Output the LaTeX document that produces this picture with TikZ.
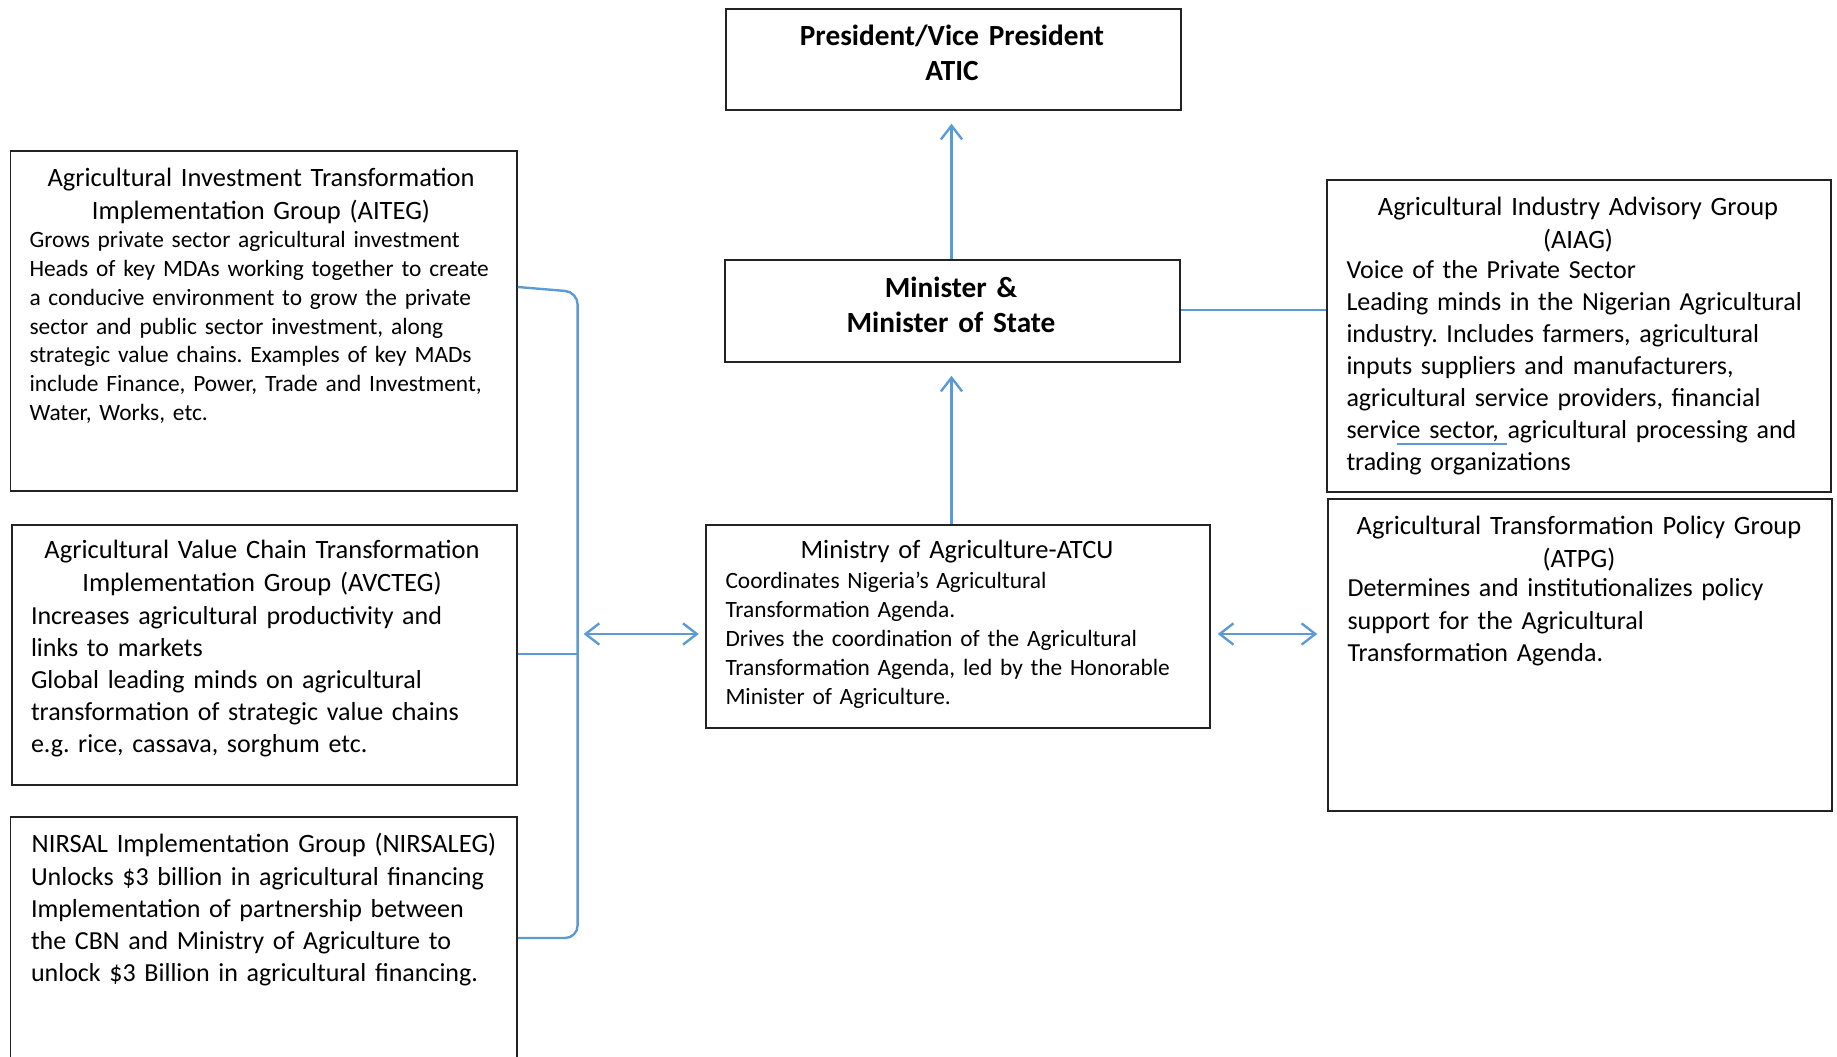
\documentclass[tikz,border=0pt]{standalone}
\usepackage{fontspec}
\setmainfont{Carlito}
\usetikzlibrary{arrows.meta}
\definecolor{conn}{RGB}{91,155,213}
\definecolor{boxline}{RGB}{35,35,35}
\newcommand\myblueul[1]{\setbox0\hbox{#1}\rlap{\color{conn}\rule[-2.4pt]{\wd0}{0.7pt}}#1}
\tikzset{mytip/.tip={Straight Barb[length=5.5pt, width=8.5pt]}}
\frenchspacing
\begin{document}
\begin{tikzpicture}[x=0.4pt,y=-0.4pt,
  box/.style={draw=boxline, line width=0.6pt, rectangle, inner sep=0pt},
  ttl/.style={anchor=base, inner sep=0pt, text width=200pt, align=center, font=\fontsize{10.6}{13.1}\selectfont\frenchspacing},
  bodyA/.style={anchor=base west, inner sep=0pt, text width=200pt, align=left, font=\fontsize{10.4}{12.8}\selectfont\frenchspacing},
  bodyB/.style={anchor=base west, inner sep=0pt, text width=200pt, align=left, font=\fontsize{9.35}{11.5}\selectfont\frenchspacing},
  boldt/.style={anchor=base, inner sep=0pt, text width=180pt, align=center, font=\fontsize{11.7}{14}\selectfont\bfseries},
  link/.style={draw=conn, line width=0.95pt}
]
\clip (0,0) rectangle (1837,1057);
% boxes
\node[box, minimum width=182pt, minimum height=40.4pt] (pres) at (953.5,59.5) {};
\node[box, minimum width=182pt, minimum height=40.8pt] (mins) at (952.5,311) {};
\node[box, minimum width=202.6pt, minimum height=136pt] (aiteg) at (263.75,321) {};
\node[box, minimum width=202pt, minimum height=104pt] (avcteg) at (264.5,655) {};
\node[box, minimum width=202.6pt, minimum height=105.2pt] (nirsal) at (263.75,948.5) {};
\node[box, minimum width=201.6pt, minimum height=81.2pt] (atcu) at (958,626.5) {};
\node[box, minimum width=201.6pt, minimum height=124.8pt] (aiag) at (1579,336) {};
\node[box, minimum width=201.6pt, minimum height=124.8pt] (atpg) at (1580,655) {};
% texts
\node[boldt] (presT) at (952,46) {President/Vice President\\ATIC};
\node[boldt] (minsT) at (951,298) {Minister \&\\Minister of State};
\node[ttl] (aitegT) at (261,187) {Agricultural Investment Transformation\\Implementation Group (AITEG)};
\node[bodyB] (aitegB) at (29,248) {Grows private sector agricultural investment\\Heads of key MDAs working together to create\\a conducive environment to grow the private\\sector and public sector investment, along\\strategic value chains. Examples of key MADs\\include Finance, Power, Trade and Investment,\\Water, Works, etc.};
\node[ttl] (avctegT) at (262,559) {Agricultural Value Chain Transformation\\Implementation Group (AVCTEG)};
\node[bodyA] (avctegB) at (30.5,624) {Increases agricultural productivity and\\links to markets\\Global leading minds on agricultural\\transformation of strategic value chains\\e.g. rice, cassava, sorghum etc.};
\node[ttl] (nirsalT) at (264,852) {NIRSAL Implementation Group (NIRSALEG)};
\node[bodyA] (nirsalB) at (30.5,885) {Unlocks \$3 billion in agricultural financing\\Implementation of partnership between\\the CBN and Ministry of Agriculture to\\unlock \$3 Billion in agricultural financing.};
\node[ttl] (atcuT) at (957,559) {Ministry of Agriculture-ATCU};
\node[bodyB] (atcuB) at (725,589) {Coordinates Nigeria’s Agricultural\\Transformation Agenda.\\Drives the coordination of the Agricultural\\Transformation Agenda, led by the Honorable\\Minister of Agriculture.};
\node[ttl] (aiagT) at (1578,216) {Agricultural Industry Advisory Group\\(AIAG)};
\node[bodyA] (aiagB) at (1346,279) {Voice of the Private Sector\\Leading minds in the Nigerian Agricultural\\industry. Includes farmers, agricultural\\inputs suppliers and manufacturers,\\agricultural service providers, financial\\servi\myblueul{ce sector, }agricultural processing and\\trading organizations};
\node[ttl] (atpgT) at (1579,535) {Agricultural Transformation Policy Group\\(ATPG)};
\node[bodyA] (atpgB) at (1347,597) {Determines and institutionalizes policy\\support for the Agricultural\\Transformation Agenda.};
% connector coordinates
\coordinate (bt) at (577.6,287);
\coordinate (bm) at (577.6,654);
\coordinate (bb) at (577.6,938);
\coordinate (dl) at (577.6,634);
\coordinate (up1) at (951.5,0);
% connectors
\draw[link, -{mytip}, shorten >=5.2pt] (mins.north -| up1) -- (pres.south -| up1);
\draw[link, -{mytip}, shorten >=5.2pt] (atcu.north -| up1) -- (mins.south -| up1);
\draw[link] (mins.east |- 0,310) -- (aiag.west |- 0,310);
\draw[link, rounded corners=5pt] (aiteg.east |- bt) -- ([yshift=-2pt]bt) -- (bb) -- (nirsal.east |- bb);
\draw[link] (avcteg.east |- bm) -- (bm);
\draw[link, {mytip}-{mytip}, shorten <=2.4pt, shorten >=2.6pt] (dl) -- (atcu.west |- dl);
\draw[link, {mytip}-{mytip}, shorten <=2.8pt, shorten >=4pt] (atcu.east |- dl) -- (atpg.west |- dl);
\end{tikzpicture}
\end{document}
